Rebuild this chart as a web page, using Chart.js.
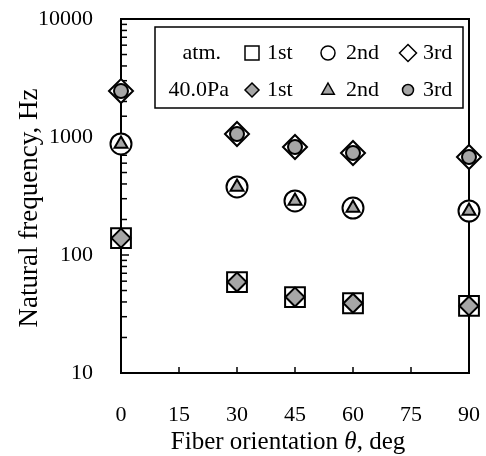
<!DOCTYPE html>
<html>
<head>
<meta charset="utf-8">
<script src="https://cdn.jsdelivr.net/npm/chart.js@4.4.1/dist/chart.umd.min.js"></script>
<style>
  body { margin: 0; background: #fff; }
  canvas { display: block; }
</style>
</head>
<body>
<canvas id="grafica" width="486" height="456"></canvas>
<script>
// ===============================
// DATOS
// ===============================
const angulos = [0, 30, 45, 60, 90];
const xTicks = [0, 15, 30, 45, 60, 75, 90];
const yTicks = [10, 100, 1000, 10000];

const atm1st = [139, 59, 44, 39, 37];
const atm2nd = [873, 377, 287, 250, 236];
const atm3rd = [2450, 1060, 823, 732, 677];

const pa1st = [139, 59, 44, 39, 37];
const pa2nd = [873, 377, 287, 250, 236];
const pa3rd = [2450, 1060, 823, 732, 677];

const grupos = ["atm.", "40.0Pa"];
const modos = ["1st", "2nd", "3rd"];

const GRIS = "#a6a6a6";
const FUENTE = "'Liberation Serif', 'Times New Roman', serif";

function puntos(vals) {
  return angulos.map((a, i) => ({ x: a, y: vals[i] }));
}

// ===============================
// PLUGIN: marco + ticks hacia dentro
// ===============================
const marco = {
  id: "marco",
  beforeDatasetsDraw(chart) {
    const ctx = chart.ctx;
    const a = chart.chartArea;
    const xs = chart.scales.x;
    const ys = chart.scales.y;
    ctx.save();
    ctx.strokeStyle = "#000";
    ctx.lineWidth = 2;
    ctx.strokeRect(a.left, a.top, a.right - a.left, a.bottom - a.top);

    ctx.lineWidth = 1.5;
    // ticks del eje x (hacia arriba)
    xTicks.forEach(v => {
      if (v === xs.min || v === xs.max) return;
      const px = xs.getPixelForValue(v);
      ctx.beginPath();
      ctx.moveTo(px, a.bottom);
      ctx.lineTo(px, a.bottom - 6);
      ctx.stroke();
    });
    // ticks menores del eje y (hacia la derecha)
    ys.ticks.forEach(t => {
      const py = ys.getPixelForValue(t.value);
      const mayor = yTicks.includes(t.value);
      ctx.beginPath();
      ctx.moveTo(a.left, py);
      ctx.lineTo(a.left + (mayor ? 8 : 6), py);
      ctx.stroke();
    });
    ctx.restore();
  }
};

// ===============================
// TÍTULOS DE EJES (theta en cursiva)
// ===============================
const titulos = {
  id: "titulos",
  afterDraw(chart) {
    const ctx = chart.ctx;
    const a = chart.chartArea;
    ctx.save();
    ctx.fillStyle = "#000";
    ctx.textBaseline = "middle";

    // eje x
    const partes = [
      { t: "Fiber orientation ", f: "25px " + FUENTE },
      { t: "\u03B8", f: "italic 25px " + FUENTE },
      { t: ", deg", f: "25px " + FUENTE }
    ];
    let ancho = 0;
    partes.forEach(p => { ctx.font = p.f; p.w = ctx.measureText(p.t).width; ancho += p.w; });
    let x = (a.left + a.right) / 2 - 7 - ancho / 2;
    ctx.textAlign = "left";
    partes.forEach(p => {
      ctx.font = p.f;
      ctx.fillText(p.t, x, a.bottom + 69);
      x += p.w;
    });

    // eje y
    ctx.translate(30, (a.top + a.bottom) / 2 + 12);
    ctx.rotate(-Math.PI / 2);
    ctx.textAlign = "center";
    ctx.font = "27px " + FUENTE;
    ctx.fillText("Natural frequency, Hz", 0, 0);
    ctx.restore();
  }
};

// ===============================
// LEYENDA (dos filas)
// ===============================
function dibujarMarca(ctx, tipo, x, y, r, relleno) {
  ctx.beginPath();
  if (tipo === "rect") {
    ctx.rect(x - r, y - r, 2 * r, 2 * r);
  } else if (tipo === "circle") {
    ctx.arc(x, y, r, 0, Math.PI * 2);
  } else if (tipo === "rectRot") {
    ctx.moveTo(x, y - r);
    ctx.lineTo(x + r, y);
    ctx.lineTo(x, y + r);
    ctx.lineTo(x - r, y);
    ctx.closePath();
  } else if (tipo === "triangle") {
    ctx.moveTo(x, y - r);
    ctx.lineTo(x + r * 0.9, y + r * 0.6);
    ctx.lineTo(x - r * 0.9, y + r * 0.6);
    ctx.closePath();
  }
  ctx.fillStyle = relleno;
  ctx.fill();
  ctx.stroke();
}

const leyenda = {
  id: "leyenda",
  afterDatasetsDraw(chart) {
    const ctx = chart.ctx;
    const a = chart.chartArea;
    const L = a.left + 34, T = a.top + 8, R = a.right - 6, B = a.top + 89;
    ctx.save();
    ctx.fillStyle = "#fff";
    ctx.fillRect(L, T, R - L, B - T);
    ctx.strokeStyle = "#000";
    ctx.lineWidth = 1.5;
    ctx.strokeRect(L, T, R - L, B - T);

    ctx.font = "22px " + FUENTE;
    ctx.textBaseline = "middle";
    const filas = [T + 26, T + 63];
    const marcasX = [L + 97, L + 173, L + 253];
    const textosX = [L + 112, L + 191, L + 268];

    ctx.fillStyle = "#000";
    ctx.textAlign = "right";
    ctx.fillText(grupos[0], L + 66, filas[0]);
    ctx.fillText(grupos[1], L + 74, filas[1]);
    ctx.textAlign = "left";

    const abiertos = ["rect", "circle", "rectRot"];
    const rAbiertos = [7, 7, 8.5];
    const llenos = ["rectRot", "triangle", "circle"];
    const rLlenos = [7, 7, 5.5];

    ctx.lineWidth = 1.5;
    modos.forEach((m, i) => {
      ctx.strokeStyle = "#000";
      dibujarMarca(ctx, abiertos[i], marcasX[i], filas[0], rAbiertos[i], "#fff");
      dibujarMarca(ctx, llenos[i], marcasX[i], filas[1], rLlenos[i], GRIS);
      ctx.fillStyle = "#000";
      ctx.fillText(m, textosX[i], filas[0]);
      ctx.fillText(m, textosX[i], filas[1]);
    });
    ctx.restore();
  }
};

// ===============================
// GRÁFICA
// ===============================
const abierto = { backgroundColor: "#fff", borderColor: "#000", pointBorderWidth: 2 };
const lleno = { backgroundColor: GRIS, borderColor: "#000", pointBorderWidth: 2 };

const ctx = document.getElementById("grafica").getContext("2d");
const chart = new Chart(ctx, {
  type: "scatter",
  data: {
    datasets: [
      { label: "atm. 1st", data: puntos(atm1st), pointStyle: "rect", pointRadius: 14, order: 2, ...abierto },
      { label: "atm. 2nd", data: puntos(atm2nd), pointStyle: "circle", pointRadius: 10.5, order: 2, ...abierto },
      { label: "atm. 3rd", data: puntos(atm3rd), pointStyle: "rectRot", pointRadius: 12, order: 2, ...abierto },
      { label: "40.0Pa 1st", data: puntos(pa1st), pointStyle: "rectRot", pointRadius: 9.5, order: 1, ...lleno },
      { label: "40.0Pa 2nd", data: puntos(pa2nd), pointStyle: "triangle", pointRadius: 7.5, order: 1, ...lleno },
      { label: "40.0Pa 3rd", data: puntos(pa3rd), pointStyle: "circle", pointRadius: 7, order: 1, ...lleno }
    ].map(d => ({ ...d, showLine: false, clip: false, pointHoverRadius: d.pointRadius }))
  },
  options: {
    responsive: false,
    animation: false,
    devicePixelRatio: 1,
    layout: { padding: { top: 19, right: 17, left: 0, bottom: 0 } },
    plugins: {
      legend: { display: false },
      tooltip: { enabled: false }
    },
    scales: {
      x: {
        type: "linear",
        min: 0,
        max: 90,
        border: { display: false },
        grid: { display: false, drawTicks: false },
        ticks: {
          stepSize: 15,
          padding: 29,
          color: "#000",
          font: { family: FUENTE, size: 22 },
          maxRotation: 0,
          autoSkip: false
        },
        title: { display: false },
        afterFit(scale) {
          scale.height = 83;
          scale.paddingLeft = 0;
          scale.paddingRight = 0;
        }
      },
      y: {
        type: "logarithmic",
        min: 10,
        max: 10000,
        border: { display: false },
        grid: { display: false, drawTicks: false },
        ticks: {
          padding: 28,
          color: "#000",
          font: { family: FUENTE, size: 22 },
          autoSkip: false,
          callback: v => (yTicks.includes(v) ? String(v) : "")
        },
        title: { display: false },
        afterFit(scale) {
          scale.width = 121;
          scale.paddingTop = 0;
          scale.paddingBottom = 0;
        }
      }
    }
  },
  plugins: [marco, titulos, leyenda]
});
</script>
</body>
</html>
